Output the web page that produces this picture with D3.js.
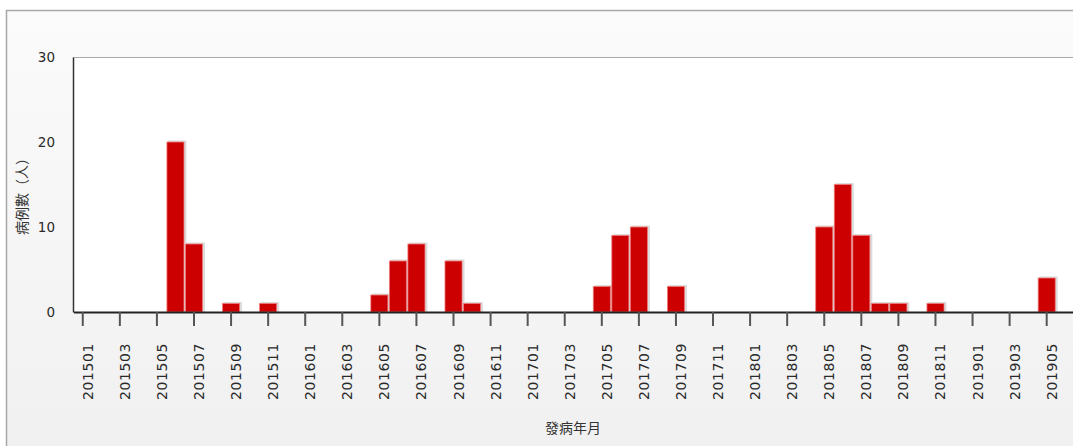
<!DOCTYPE html>
<html>
<head>
<meta charset="utf-8">
<script src="https://cdn.jsdelivr.net/npm/d3@7"></script>
<style>
  body { margin: 0; background: #fff; }
  svg { display: block; }
</style>
</head>
<body>
<svg width="1073" height="446"></svg>
<script>
// months 201501 .. 201906
var months = ["201501","201502","201503","201504","201505","201506","201507","201508","201509","201510","201511","201512",
              "201601","201602","201603","201604","201605","201606","201607","201608","201609","201610","201611","201612",
              "201701","201702","201703","201704","201705","201706","201707","201708","201709","201710","201711","201712",
              "201801","201802","201803","201804","201805","201806","201807","201808","201809","201810","201811","201812",
              "201901","201902","201903","201904","201905","201906"];
var cases = [0,0,0,0,0,20,8,0,1,0,1,0,
             0,0,0,0,2,6,8,0,6,1,0,0,
             0,0,0,0,3,9,10,0,3,0,0,0,
             0,0,0,0,10,15,9,1,1,0,1,0,
             0,0,0,0,4,0];
var yTicks = [0, 10, 20, 30];
var xTitle = "發病年月";
var yTitle = "病例數（人）";

var svg = d3.select("svg");
var plotTop = 57, plotBottom = 312, plotLeft = 73;

// panel background
var defs = svg.append("defs");
var grad = defs.append("linearGradient").attr("id", "bg")
    .attr("x1", 0).attr("y1", 0).attr("x2", 0).attr("y2", 1);
grad.append("stop").attr("offset", "0%").attr("stop-color", "#fbfbfb");
grad.append("stop").attr("offset", "100%").attr("stop-color", "#efefef");

svg.append("rect")
    .attr("x", 6.5).attr("y", 10.5)
    .attr("width", 1100).attr("height", 500)
    .attr("fill", "url(#bg)")
    .attr("stroke", "#a8a8a8")
    .attr("stroke-width", 1.5);

// plot area
svg.append("rect")
    .attr("x", plotLeft).attr("y", plotTop)
    .attr("width", 1100).attr("height", plotBottom - plotTop)
    .attr("fill", "#fff");
svg.append("line")
    .attr("x1", plotLeft).attr("x2", 1073).attr("y1", plotTop + 0.5).attr("y2", plotTop + 0.5)
    .attr("stroke", "#aaa");

var x = d3.scaleBand()
    .domain(months)
    .range([73.5, 1074.5])
    .paddingInner(0.08)
    .paddingOuter(0.04);

var y = d3.scaleLinear()
    .domain([0, 30])
    .range([plotBottom, plotTop]);

var data = months.map(function(m, i) { return {month: m, value: cases[i]}; })
    .filter(function(d) { return d.value > 0; });

// shadows
svg.append("g").selectAll("rect")
    .data(data)
    .enter()
    .append("rect")
    .attr("x", function(d) { return x(d.month) + 1; })
    .attr("y", function(d) { return y(d.value) - 1.5; })
    .attr("width", x.bandwidth() + 1.5)
    .attr("height", function(d) { return plotBottom - y(d.value) + 1.5; })
    .attr("fill", "#dcdcdc");

// bars
svg.append("g").selectAll("rect")
    .data(data)
    .enter()
    .append("rect")
    .attr("x", function(d) { return x(d.month); })
    .attr("y", function(d) { return y(d.value); })
    .attr("width", x.bandwidth())
    .attr("height", function(d) { return plotBottom - y(d.value); })
    .attr("fill", "#cc0000")
    .attr("stroke", "#f07a7a")
    .attr("stroke-width", 0.8);

// y axis
var yAxis = svg.append("g")
    .attr("transform", "translate(" + plotLeft + ",0)")
    .call(d3.axisLeft(y).tickValues(yTicks).tickSize(0).tickPadding(18));
yAxis.select(".domain").attr("stroke", "#333").attr("stroke-width", 1.5);
yAxis.selectAll("text")
    .attr("font-family", "DejaVu Sans")
    .attr("font-size", 13.5)
    .attr("fill", "#2a2a2a");

// x axis
var xTickVals = months.filter(function(m, i) { return i % 2 === 0; });
var xAxis = svg.append("g")
    .attr("transform", "translate(0," + plotBottom + ")")
    .call(d3.axisBottom(x).tickValues(xTickVals).tickSize(14).tickSizeOuter(0));
xAxis.select(".domain").attr("stroke", "#222").attr("stroke-width", 2);
xAxis.selectAll(".tick line").attr("stroke", "#555").attr("stroke-width", 2);
xAxis.selectAll("text")
    .attr("font-family", "DejaVu Sans")
    .attr("font-size", 14)
    .attr("letter-spacing", 0.6)
    .attr("fill", "#2a2a2a")
    .attr("text-anchor", "end")
    .attr("dy", null)
    .attr("y", null)
    .attr("transform", "translate(10,31) rotate(-90)");

// titles
svg.append("text")
    .attr("x", 573).attr("y", 433)
    .attr("text-anchor", "middle")
    .attr("font-family", "Noto Sans CJK TC")
    .attr("font-size", 14)
    .attr("fill", "#333")
    .text(xTitle);

svg.append("text")
    .attr("transform", "translate(27,193) rotate(-90)")
    .attr("text-anchor", "middle")
    .attr("font-family", "Noto Sans CJK TC")
    .attr("font-size", 14)
    .attr("fill", "#333")
    .text(yTitle);
</script>
</body>
</html>
